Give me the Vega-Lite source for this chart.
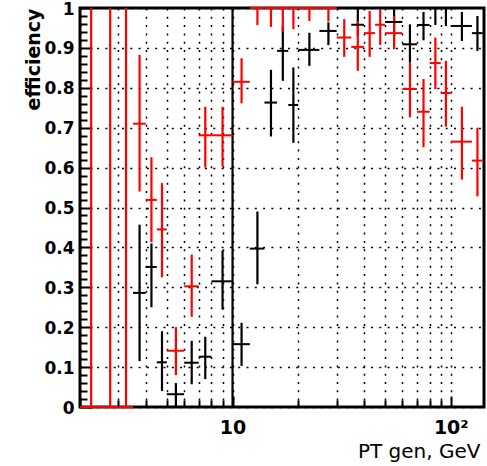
{
  "$schema": "https://vega.github.io/schema/vega-lite/v6.json",
  "width": 404,
  "height": 399,
  "autosize": {"type": "none"},
  "padding": {"left": 80, "top": 8, "right": 3, "bottom": 59},
  "background": "white",
  "config": {
    "view": {"stroke": "black", "strokeWidth": 3},
    "axis": {"domain": false, "labelOverlap": false, "labelBound": false, "labelFlush": false}
  },
  "data": {
    "values": [
      {"s": "line", "x": 10, "xlo": null, "xhi": null, "y": null, "ylo": 0, "yhi": 1},
      {"s": "black", "x": 3.75, "xlo": 3.5, "xhi": 4, "y": 0.286, "ylo": 0.115, "yhi": 0.457},
      {"s": "black", "x": 4.25, "xlo": 4, "xhi": 4.5, "y": 0.351, "ylo": 0.25, "yhi": 0.41},
      {"s": "black", "x": 4.75, "xlo": 4.5, "xhi": 5, "y": 0.112, "ylo": 0.04, "yhi": 0.19},
      {"s": "black", "x": 5.5, "xlo": 5, "xhi": 6, "y": 0.032, "ylo": 0, "yhi": 0.06},
      {"s": "black", "x": 6.5, "xlo": 6, "xhi": 7, "y": 0.111, "ylo": 0.057, "yhi": 0.166},
      {"s": "black", "x": 7.5, "xlo": 7, "xhi": 8, "y": 0.126, "ylo": 0.07, "yhi": 0.176},
      {"s": "black", "x": 9, "xlo": 8, "xhi": 10, "y": 0.315, "ylo": 0.244, "yhi": 0.3925},
      {"s": "black", "x": 11, "xlo": 10, "xhi": 12, "y": 0.1575, "ylo": 0.103, "yhi": 0.211},
      {"s": "black", "x": 13, "xlo": 12, "xhi": 14, "y": 0.397, "ylo": 0.3075, "yhi": 0.49},
      {"s": "black", "x": 15, "xlo": 14, "xhi": 16, "y": 0.763, "ylo": 0.678, "yhi": 0.845},
      {"s": "black", "x": 17, "xlo": 16, "xhi": 18, "y": 0.8925, "ylo": 0.8175, "yhi": 0.955},
      {"s": "black", "x": 19, "xlo": 18, "xhi": 20, "y": 0.757, "ylo": 0.662, "yhi": 0.851},
      {"s": "black", "x": 22.5, "xlo": 20, "xhi": 25, "y": 0.895, "ylo": 0.855, "yhi": 0.938},
      {"s": "black", "x": 27.5, "xlo": 25, "xhi": 30, "y": 0.9425, "ylo": 0.907, "yhi": 0.964},
      {"s": "black", "x": 37.5, "xlo": 35, "xhi": 40, "y": 0.958, "ylo": 0.93, "yhi": 1},
      {"s": "black", "x": 55, "xlo": 50, "xhi": 60, "y": 0.965, "ylo": 0.93, "yhi": 0.997},
      {"s": "black", "x": 65, "xlo": 60, "xhi": 70, "y": 0.909, "ylo": 0.863, "yhi": 0.959},
      {"s": "black", "x": 75, "xlo": 70, "xhi": 80, "y": 0.9575, "ylo": 0.919, "yhi": 0.99},
      {"s": "black", "x": 85, "xlo": 80, "xhi": 90, "y": 1, "ylo": 0.9575, "yhi": 1},
      {"s": "black", "x": 95, "xlo": 90, "xhi": 100, "y": 1, "ylo": 0.955, "yhi": 1},
      {"s": "black", "x": 112.5, "xlo": 100, "xhi": 125, "y": 0.955, "ylo": 0.9175, "yhi": 0.99},
      {"s": "black", "x": 132.5, "xlo": 125, "xhi": 140, "y": 0.937, "ylo": 0.8925, "yhi": 0.98},
      {"s": "red", "x": 2.25, "xlo": 2, "xhi": 2.5, "y": 0, "ylo": 0, "yhi": 1},
      {"s": "red", "x": 2.75, "xlo": 2.5, "xhi": 3, "y": 0, "ylo": 0, "yhi": 1},
      {"s": "red", "x": 3.25, "xlo": 3, "xhi": 3.5, "y": 0, "ylo": 0, "yhi": 1},
      {"s": "red", "x": 3.75, "xlo": 3.5, "xhi": 4, "y": 0.71, "ylo": 0.54, "yhi": 0.8825},
      {"s": "red", "x": 4.25, "xlo": 4, "xhi": 4.5, "y": 0.519, "ylo": 0.413, "yhi": 0.626},
      {"s": "red", "x": 4.75, "xlo": 4.5, "xhi": 5, "y": 0.445, "ylo": 0.325, "yhi": 0.561},
      {"s": "red", "x": 5.5, "xlo": 5, "xhi": 6, "y": 0.141, "ylo": 0.08, "yhi": 0.2},
      {"s": "red", "x": 6.5, "xlo": 6, "xhi": 7, "y": 0.3025, "ylo": 0.226, "yhi": 0.382},
      {"s": "red", "x": 7.5, "xlo": 7, "xhi": 8, "y": 0.681, "ylo": 0.6, "yhi": 0.7525},
      {"s": "red", "x": 9, "xlo": 8, "xhi": 10, "y": 0.681, "ylo": 0.6025, "yhi": 0.7525},
      {"s": "red", "x": 11, "xlo": 10, "xhi": 12, "y": 0.815, "ylo": 0.761, "yhi": 0.874},
      {"s": "red", "x": 13, "xlo": 12, "xhi": 14, "y": 1, "ylo": 0.9575, "yhi": 1},
      {"s": "red", "x": 15, "xlo": 14, "xhi": 16, "y": 1, "ylo": 0.9525, "yhi": 1},
      {"s": "red", "x": 17, "xlo": 16, "xhi": 18, "y": 1, "ylo": 0.94, "yhi": 1},
      {"s": "red", "x": 19, "xlo": 18, "xhi": 20, "y": 1, "ylo": 0.947, "yhi": 1},
      {"s": "red", "x": 22.5, "xlo": 20, "xhi": 25, "y": 1, "ylo": 0.9675, "yhi": 1},
      {"s": "red", "x": 27.5, "xlo": 25, "xhi": 30, "y": 1, "ylo": 0.966, "yhi": 1},
      {"s": "red", "x": 32.5, "xlo": 30, "xhi": 35, "y": 0.926, "ylo": 0.8775, "yhi": 0.972},
      {"s": "red", "x": 37.5, "xlo": 35, "xhi": 40, "y": 0.9025, "ylo": 0.8425, "yhi": 0.9675},
      {"s": "red", "x": 42.5, "xlo": 40, "xhi": 45, "y": 0.937, "ylo": 0.8775, "yhi": 0.9925},
      {"s": "red", "x": 47.5, "xlo": 45, "xhi": 50, "y": 0.958, "ylo": 0.9075, "yhi": 0.997},
      {"s": "red", "x": 55, "xlo": 50, "xhi": 60, "y": 0.937, "ylo": 0.8967, "yhi": 0.98},
      {"s": "red", "x": 65, "xlo": 60, "xhi": 70, "y": 0.797, "ylo": 0.726, "yhi": 0.863},
      {"s": "red", "x": 75, "xlo": 70, "xhi": 80, "y": 0.74, "ylo": 0.651, "yhi": 0.822},
      {"s": "red", "x": 85, "xlo": 80, "xhi": 90, "y": 0.862, "ylo": 0.797, "yhi": 0.926},
      {"s": "red", "x": 95, "xlo": 90, "xhi": 100, "y": 0.787, "ylo": 0.7025, "yhi": 0.8675},
      {"s": "red", "x": 112.5, "xlo": 100, "xhi": 125, "y": 0.665, "ylo": 0.57, "yhi": 0.7525},
      {"s": "red", "x": 132.5, "xlo": 125, "xhi": 140, "y": 0.6175, "ylo": 0.528, "yhi": 0.7}
    ]
  },
  "resolve": {"axis": {"x": "independent", "y": "independent"}},
  "layer": [
    {
      "mark": {"type": "rule", "strokeWidth": 2.2},
      "encoding": {
        "x": {
          "field": "x", "type": "quantitative",
          "scale": {"type": "log", "domain": [2, 142], "nice": false},
          "axis": {
            "orient": "bottom",
            "values": [10, 100],
            "labelExpr": "datum.value == 10 ? '10' : '10²'",
            "tickSize": -11,
            "tickColor": "black",
            "tickWidth": 2,
            "grid": true,
            "gridColor": "black",
            "gridDash": [2, 6.3],
            "gridWidth": 1.5,
            "labelFont": "DejaVu Sans",
            "labelFontWeight": "bold",
            "labelFontSize": 19,
            "labelColor": "black",
            "labelBaseline": "top",
            "labelPadding": 22,
            "title": "PT gen, GeV",
            "titleFont": "DejaVu Sans",
            "titleFontWeight": "normal",
            "titleFontSize": 20,
            "titleColor": "black",
            "titleX": 400,
            "titleY": 50,
            "titleAlign": "right",
            "titleBaseline": "alphabetic"
          }
        },
        "y": {
          "field": "ylo", "type": "quantitative",
          "scale": {"domain": [0, 1], "nice": false, "zero": false},
          "axis": {
            "orient": "left",
            "values": [0, 0.1, 0.2, 0.3, 0.4, 0.5, 0.6, 0.7, 0.8, 0.9, 1],
            "labelExpr": "format(datum.value, '.1~f')",
            "tickSize": -12,
            "tickColor": "black",
            "tickWidth": 2,
            "grid": true,
            "gridColor": "black",
            "gridDash": [2, 6.3],
            "gridWidth": 1.5,
            "labelFont": "DejaVu Sans",
            "labelFontWeight": "bold",
            "labelFontSize": 17,
            "labelColor": "black",
            "labelPadding": 18,
            "labelOffset": 1,
            "title": "efficiency",
            "titleFont": "DejaVu Sans",
            "titleFontWeight": "bold",
            "titleFontSize": 19,
            "titleColor": "black",
            "titleX": -47,
            "titleY": 0,
            "titleAlign": "right",
            "titleBaseline": "middle",
            "titleAngle": 270
          }
        },
        "y2": {"field": "yhi"},
        "color": {"field": "s", "type": "nominal", "scale": {"domain": ["line", "black", "red"], "range": ["black", "black", "#ff0000"]}, "legend": null}
      }
    },
    {
      "mark": {"type": "rule", "strokeWidth": 2},
      "encoding": {
        "x": {
          "field": "xlo", "type": "quantitative",
          "axis": {
            "orient": "bottom",
            "values": [2, 3, 4, 5, 6, 7, 8, 9, 20, 30, 40, 50, 60, 70, 80, 90],
            "labels": false,
            "tickSize": -7,
            "tickColor": "black",
            "tickWidth": 2,
            "grid": true,
            "gridColor": "black",
            "gridDash": [2, 6.3],
            "gridWidth": 1.5,
            "title": null
          }
        },
        "x2": {"field": "xhi"},
        "y": {
          "field": "y", "type": "quantitative",
          "axis": {
            "orient": "left",
            "values": [0.02, 0.04, 0.06, 0.08, 0.12, 0.14, 0.16, 0.18, 0.22, 0.24, 0.26, 0.28, 0.32, 0.34, 0.36, 0.38, 0.42, 0.44, 0.46, 0.48, 0.52, 0.54, 0.56, 0.58, 0.62, 0.64, 0.66, 0.68, 0.72, 0.74, 0.76, 0.78, 0.82, 0.84, 0.86, 0.88, 0.92, 0.94, 0.96, 0.98],
            "labels": false,
            "tickSize": -7,
            "tickColor": "black",
            "tickWidth": 2,
            "grid": false,
            "title": null
          }
        },
        "color": {"field": "s", "type": "nominal", "legend": null}
      }
    }
  ]
}
